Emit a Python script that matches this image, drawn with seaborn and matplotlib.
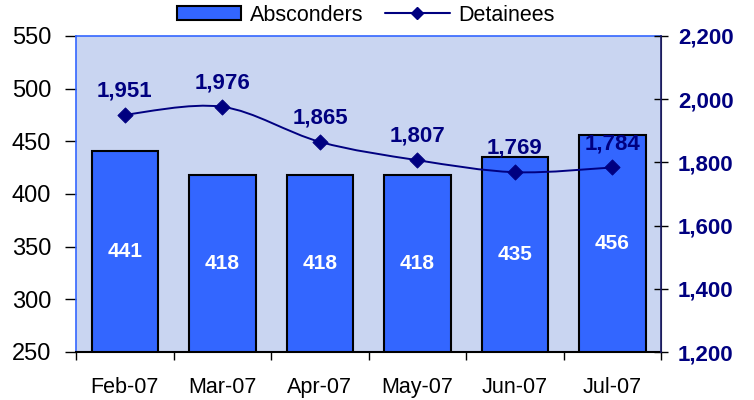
import numpy as np
import pandas as pd
import matplotlib
matplotlib.use("Agg")
import matplotlib.pyplot as plt
from matplotlib.path import Path
from matplotlib.patches import PathPatch, Patch
from matplotlib.lines import Line2D
import seaborn as sns

# Chart data
months = ["Feb-07", "Mar-07", "Apr-07", "May-07", "Jun-07", "Jul-07"]
absconders = [441, 418, 418, 418, 435, 456]
detainees = [1951, 1976, 1865, 1807, 1769, 1784]

df = pd.DataFrame({"Month": months, "Absconders": absconders, "Detainees": detainees})

sns.set_style("white")
plt.rcParams["font.family"] = ["Liberation Sans", "DejaVu Sans"]

bar_color = "#3366FF"
navy = "#000080"

fig = plt.figure(figsize=(7.54, 4.0), dpi=100)
ax = fig.add_axes([0.101, 0.12, 0.776, 0.79])
ax.set_facecolor("#C9D5F1")

sns.barplot(data=df, x="Month", y="Absconders", color=bar_color, width=0.68,
            edgecolor="black", linewidth=1.5, saturation=1, ax=ax, zorder=2)
ax.set_ylim(250, 550)
ax.set_xlim(-0.5, len(months) - 0.5)
ax.set_yticks(range(250, 551, 50))
ax.set_xlabel("")
ax.set_ylabel("")
ax.tick_params(axis="y", labelsize=17, length=8, width=1, direction="out", left=True,
               pad=10, labelcolor="black", color="black")
ax.tick_params(axis="x", labelsize=15.5, length=0, pad=18, labelcolor="black")
ax.set_xticks(np.arange(-0.5, len(months), 1), minor=True)
ax.tick_params(axis="x", which="minor", length=6, width=1, bottom=True, color="black")

# bar value labels (white, centred in bar)
for i, v in enumerate(absconders):
    ax.text(i, (250 + v) / 2, str(v), ha="center", va="center", color="white",
            fontsize=15, fontweight="bold", zorder=4)

for side in ["left", "top"]:
    ax.spines[side].set_color("#3366FF")
    ax.spines[side].set_linewidth(1.2)
ax.spines["bottom"].set_color("black")
ax.spines["bottom"].set_linewidth(1.5)

# secondary axis
ax2 = ax.twinx()
ax2.set_ylim(1200, 2200)
ax2.set_yticks(range(1200, 2201, 200))
ax2.set_yticklabels([f"{t:,}" for t in range(1200, 2201, 200)])
ax2.tick_params(axis="y", labelsize=16, labelcolor=navy, length=10, width=1,
                direction="inout", pad=7, color="black")
for lab in ax2.get_yticklabels():
    lab.set_fontweight("bold")
ax2.spines["right"].set_color("#1A1A66")
ax2.spines["right"].set_linewidth(1.2)
for side in ["left", "top", "bottom"]:
    ax2.spines[side].set_visible(False)

# smoothed line (Catmull-Rom style bezier through the data points)
xs = np.arange(len(months), dtype=float)
ys = np.array(detainees, dtype=float)
pts = np.column_stack([xs, ys])
verts = [pts[0]]
codes = [Path.MOVETO]
n = len(pts)
for i in range(n - 1):
    p0 = pts[i - 1] if i > 0 else pts[i]
    p1 = pts[i]
    p2 = pts[i + 1]
    p3 = pts[i + 2] if i + 2 < n else pts[i + 1]
    c1 = p1 + (p2 - p0) / 6.0
    c2 = p2 - (p3 - p1) / 6.0
    verts += [c1, c2, p2]
    codes += [Path.CURVE4] * 3
ax2.add_patch(PathPatch(Path(verts, codes), facecolor="none", edgecolor=navy,
                        linewidth=1.4, zorder=3))
sns.scatterplot(x=xs, y=ys, marker="D", s=60, color=navy, edgecolor=navy,
                ax=ax2, zorder=4)

for i, v in enumerate(detainees):
    ax2.text(i, v + 42, f"{v:,}", ha="center", va="bottom", color=navy,
             fontsize=16, fontweight="bold", zorder=5)

# legend
handles = [Patch(facecolor=bar_color, edgecolor="black", linewidth=1.5, label="Absconders"),
           Line2D([0], [0], color=navy, linewidth=1.5, marker="D", markersize=6,
                  label="Detainees")]
leg = fig.legend(handles=handles, loc="center", bbox_to_anchor=(0.485, 0.962), ncol=2,
                 frameon=False, fontsize=15.5, handlelength=3.0, handleheight=0.6,
                 columnspacing=1.0, handletextpad=0.4)
for t in leg.get_texts():
    t.set_color("black")

fig.savefig("out.png", dpi=100)
